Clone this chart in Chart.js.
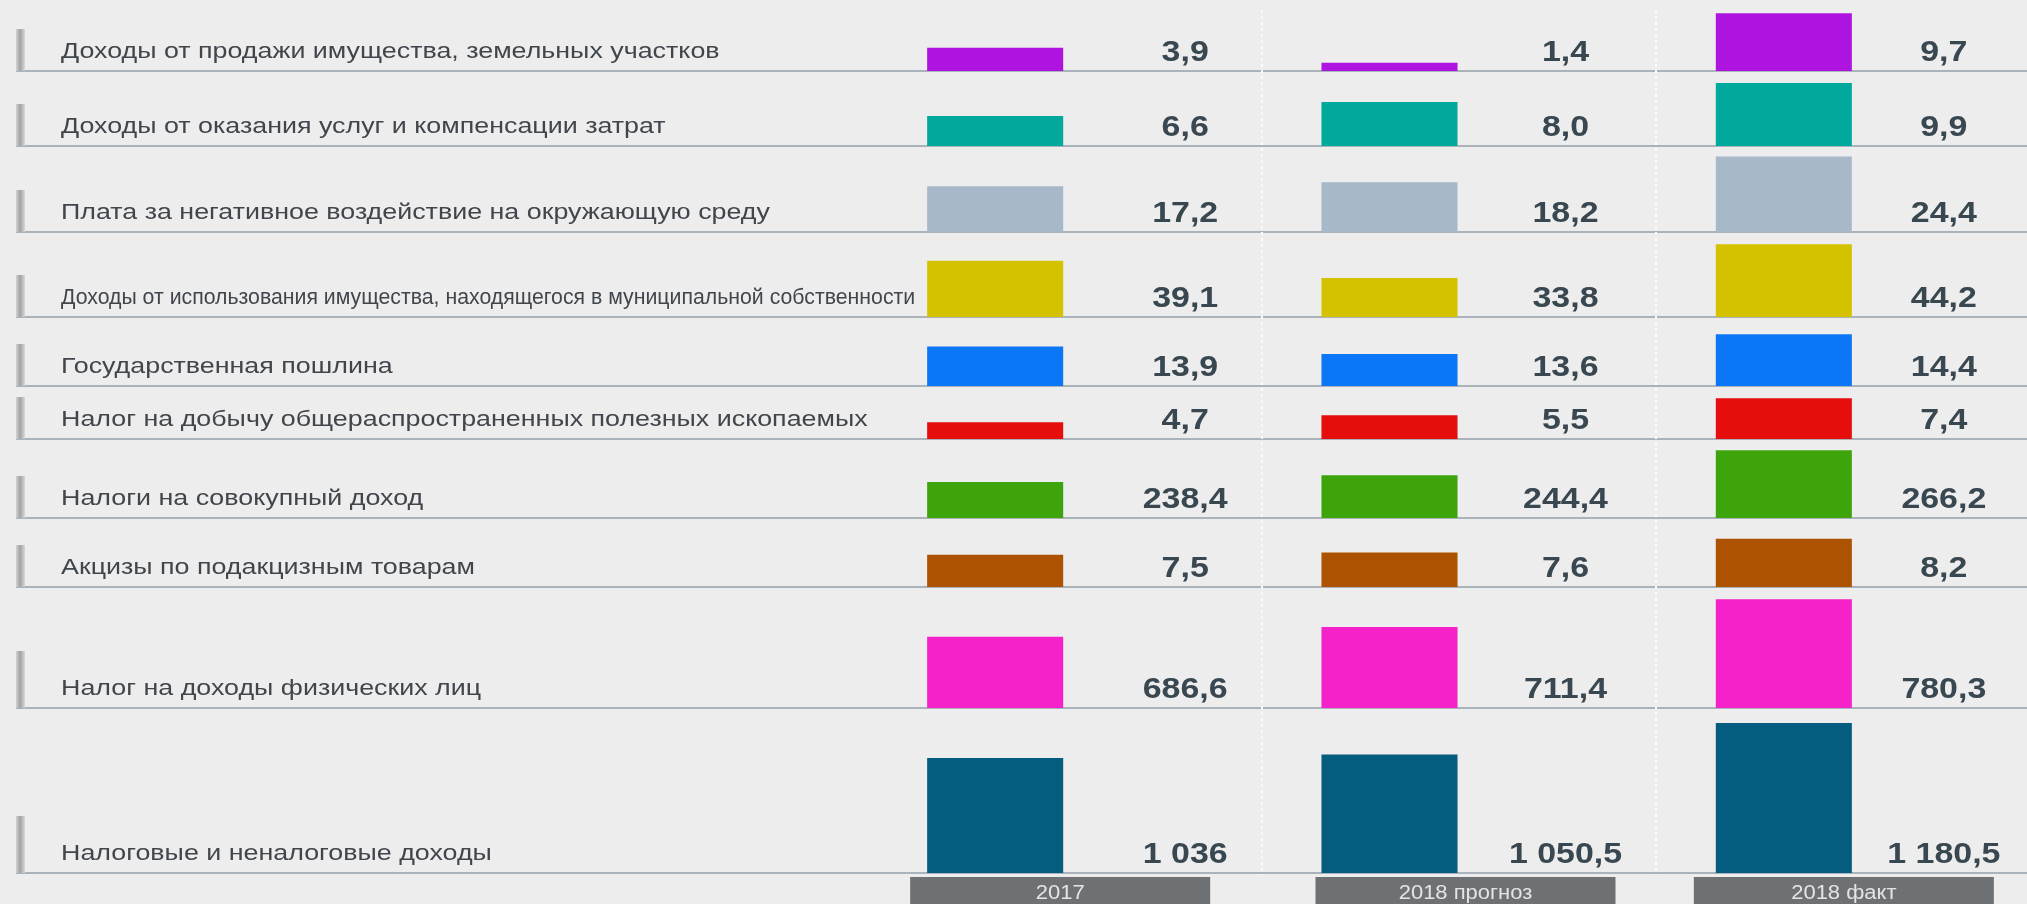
<!DOCTYPE html>
<html lang="ru">
<head>
<meta charset="utf-8">
<script src="https://cdn.jsdelivr.net/npm/chart.js@4.4.1/dist/chart.umd.min.js"></script>
<style>
  html, body { margin: 0; padding: 0; background: #ededed; }
  #wrap { width: 2027px; height: 904px; position: relative; }
  canvas { display: block; }
</style>
</head>
<body>
<div id="wrap"><canvas id="c" width="2027" height="904"></canvas></div>
<script>
// ---------------- data ----------------
const categories = [
  'Доходы от продажи имущества, земельных участков',
  'Доходы от оказания услуг и компенсации затрат',
  'Плата за негативное воздействие на окружающую среду',
  'Доходы от использования имущества, находящегося в муниципальной собственности',
  'Государственная пошлина',
  'Налог на добычу общераспространенных полезных ископаемых',
  'Налоги на совокупный доход',
  'Акцизы по подакцизным товарам',
  'Налог на доходы физических лиц',
  'Налоговые и неналоговые доходы'
];
const periods = ['2017', '2018 прогноз', '2018 факт'];
const values2017         = [3.9, 6.6, 17.2, 39.1, 13.9, 4.7, 238.4, 7.5, 686.6, 1036];
const values2018Forecast = [1.4, 8.0, 18.2, 33.8, 13.6, 5.5, 244.4, 7.6, 711.4, 1050.5];
const values2018Actual   = [9.7, 9.9, 24.4, 44.2, 14.4, 7.4, 266.2, 8.2, 780.3, 1180.5];
const rowColors = ['#ad14e0', '#00a99b', '#a7b9c9', '#d4c100', '#0b77f6',
                   '#e60d0d', '#3da50b', '#ad5200', '#f521c9', '#045d7e'];

// ---------------- layout / scale config ----------------
// relative height of each row band (top to bottom)
const rowBandWeight = [71, 75, 86, 85, 69, 53, 79, 69, 121, 165];
// per-row value axis range (each row has its own axis, as in the infographic)
const rowAxisRange = [
  [0, 11.9], [3.6, 11.1], [6.2, 26.9], [21.7, 48.0], [12.3, 15.1],
  [2.8, 8.8], [207, 276], [6.1, 9.1], [509, 811], [562, 1242]
];
const valueLabelOffset = [190, 176, 160];
const tabOffset = [65, 76, 60];

function fmt(v) {
  const parts = v.toFixed(1).split('.');
  const intPart = parts[0].replace(/\B(?=(\d{3})+(?!\d))/g, ' ');
  if (Number.isInteger(v) && v >= 1000) return intPart;
  return intPart + ',' + parts[1];
}

function stretchText(ctx, text, x, y, sx, maxW) {
  ctx.save();
  ctx.translate(x, y);
  ctx.scale(sx, 1);
  if (maxW) ctx.fillText(text, 0, 0, maxW / sx); else ctx.fillText(text, 0, 0);
  ctx.restore();
}

const datasets = categories.map((name, i) => ({
  label: name,
  data: [values2017[i], values2018Forecast[i], values2018Actual[i]],
  backgroundColor: rowColors[i],
  borderWidth: 0,
  yAxisID: 'y' + i,
  grouped: false,
  barPercentage: 0.345,
  categoryPercentage: 1
}));

const scales = {
  x: { type: 'category', display: false, offset: true, grid: { display: false } }
};
categories.forEach((_, i) => {
  scales['y' + i] = {
    type: 'linear',
    position: 'left',
    stack: 'rows',
    stackWeight: rowBandWeight[i],
    weight: 20 - i,
    min: rowAxisRange[i][0],
    max: rowAxisRange[i][1],
    display: false,
    grid: { display: false }
  };
});

const deco = {
  id: 'deco',
  beforeDraw(chart) {
    const ctx = chart.ctx;
    ctx.save();
    ctx.fillStyle = '#ededed';
    ctx.fillRect(0, 0, chart.width, chart.height);
    ctx.restore();
  },
  beforeDatasetsDraw(chart) {
    const ctx = chart.ctx;
    const xs = chart.scales.x;
    ctx.save();
    // row baselines and left markers
    categories.forEach((_, i) => {
      const ys = chart.scales['y' + i];
      const yb = Math.round(ys.bottom);
      ctx.strokeStyle = '#aab2ba';
      ctx.lineWidth = 2;
      ctx.beginPath();
      ctx.moveTo(16, yb);
      ctx.lineTo(chart.width, yb);
      ctx.stroke();
      const mh = rowBandWeight[i] > 100 ? 57 : 42;
      const g = ctx.createLinearGradient(16, 0, 25, 0);
      g.addColorStop(0, '#d2d2d2');
      g.addColorStop(0.45, '#a2a2a2');
      g.addColorStop(1, '#d8d8d8');
      ctx.fillStyle = g;
      ctx.fillRect(16, yb - mh, 9, mh);
    });
    // dotted column separators
    ctx.strokeStyle = '#fbfbfb';
    ctx.lineWidth = 2;
    ctx.setLineDash([3, 3]);
    for (let c = 1; c < periods.length; c++) {
      const x = Math.round(xs.getPixelForValue(c) - 128);
      ctx.beginPath();
      ctx.moveTo(x, 10);
      ctx.lineTo(x, chart.chartArea.bottom + 2);
      ctx.stroke();
    }
    ctx.restore();
  },
  afterDatasetsDraw(chart) {
    const ctx = chart.ctx;
    const xs = chart.scales.x;
    ctx.save();
    // row labels
    ctx.fillStyle = '#40464c';
    ctx.font = '22px "Liberation Sans", Arial, sans-serif';
    ctx.textAlign = 'left';
    ctx.textBaseline = 'alphabetic';
    const labelMax = xs.getPixelForValue(0) - 70 - 61 - 10;
    categories.forEach((name, i) => {
      const yb = chart.scales['y' + i].bottom;
      stretchText(ctx, name, 61, yb - 13, 1.22, labelMax);
    });
    // value labels
    ctx.fillStyle = '#394750';
    ctx.font = 'bold 29px "Liberation Sans", Arial, sans-serif';
    ctx.textAlign = 'center';
    chart.data.datasets.forEach((ds, i) => {
      const yb = chart.scales['y' + i].bottom;
      ds.data.forEach((v, c) => {
        const x = xs.getPixelForValue(c) + valueLabelOffset[c];
        stretchText(ctx, fmt(v), x, yb - 10, 1.17);
      });
    });
    // period tabs
    const tabTop = chart.chartArea.bottom + 4;
    periods.forEach((p, c) => {
      const cx = xs.getPixelForValue(c) + tabOffset[c];
      ctx.fillStyle = '#6e7173';
      ctx.fillRect(cx - 150, tabTop, 300, chart.height - tabTop);
      ctx.fillStyle = '#e4e4e4';
      ctx.font = '20px "Liberation Sans", Arial, sans-serif';
      ctx.textAlign = 'center';
      stretchText(ctx, p, cx, chart.height - 5, 1.1);
    });
    ctx.restore();
  }
};

new Chart(document.getElementById('c'), {
  type: 'bar',
  data: { labels: periods, datasets },
  options: {
    responsive: false,
    animation: false,
    devicePixelRatio: 1,
    layout: { padding: { left: 798, right: 46, top: 0, bottom: 31 } },
    plugins: { legend: { display: false }, tooltip: { enabled: false } },
    scales
  },
  plugins: [deco]
});
</script>
</body>
</html>
